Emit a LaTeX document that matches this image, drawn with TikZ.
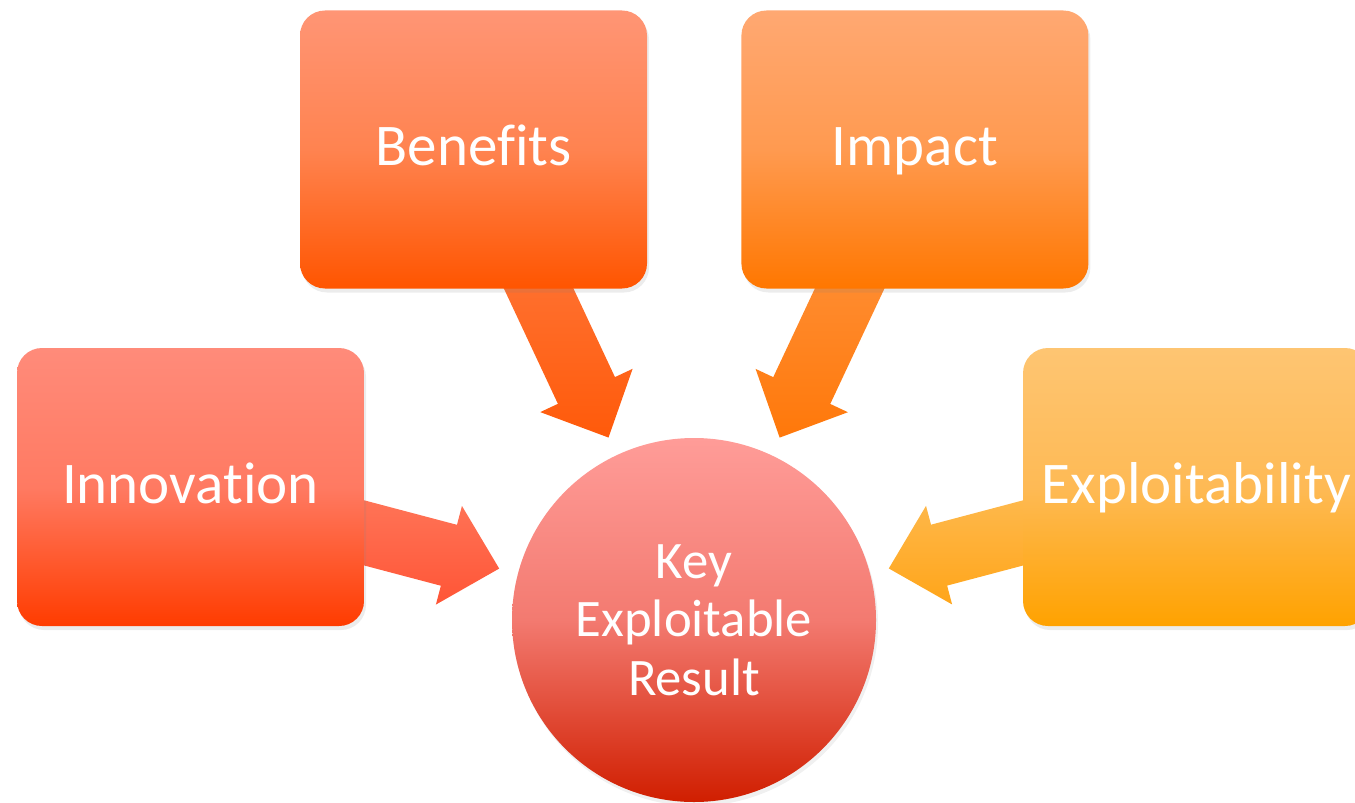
\documentclass[tikz,border=0pt]{standalone}
\usepackage{fontspec}
\setmainfont[Ligatures=NoCommon]{Carlito}
\usetikzlibrary{positioning, calc, shadows, backgrounds}

\definecolor{innoTop}{HTML}{FF8B7A}
\definecolor{innoMid}{HTML}{FF7A62}
\definecolor{innoBot}{HTML}{FF3C00}
\definecolor{beneTop}{HTML}{FF9575}
\definecolor{beneMid}{HTML}{FF8350}
\definecolor{beneBot}{HTML}{FF5500}
\definecolor{impaTop}{HTML}{FFA872}
\definecolor{impaMid}{HTML}{FF9A50}
\definecolor{impaBot}{HTML}{FF7700}
\definecolor{explTop}{HTML}{FEC572}
\definecolor{explMid}{HTML}{FEBA55}
\definecolor{explBot}{HTML}{FFA200}
\definecolor{kerTop}{HTML}{FF9C98}
\definecolor{kerMid}{HTML}{F37A70}
\definecolor{kerBot}{HTML}{D01E00}
\definecolor{innoArrowTop}{HTML}{FF8064}
\definecolor{innoArrowBot}{HTML}{FF5536}
\definecolor{beneArrowTop}{HTML}{FF8450}
\definecolor{beneArrowBot}{HTML}{FF5A0A}
\definecolor{impaArrowTop}{HTML}{FF9E52}
\definecolor{impaArrowBot}{HTML}{FF780A}
\definecolor{explArrowTop}{HTML}{FEC060}
\definecolor{explArrowBot}{HTML}{FFA519}

\begin{document}
\begin{tikzpicture}[
      box/.style={rectangle, rounded corners=0.25cm, minimum width=3.47cm, minimum height=2.78cm, inner sep=0pt, text=white, font=\fontsize{16.8}{20}\selectfont, text height=0.32cm, text depth=0pt, drop shadow={shadow xshift=0.02cm, shadow yshift=-0.04cm, opacity=0.15}},
      result/.style={circle, minimum size=3.64cm, inner sep=0pt, align=center, text=white, font=\fontsize{15}{16.6}\selectfont, drop shadow={shadow xshift=0.02cm, shadow yshift=-0.04cm, opacity=0.12}}
    ]
      \useasboundingbox (0,0) rectangle (13.55,8.02);

      % Nodes
      \node[result, top color=kerTop, bottom color=kerBot, middle color=kerMid] (ker) at (6.94,1.82) {Key\\Exploitable\\Result};
      \node[box, top color=innoTop, bottom color=innoBot, middle color=innoMid] (innovation) at (1.905,3.15) {Innovation};
      \node[box, top color=beneTop, bottom color=beneBot, middle color=beneMid] (benefits) at (4.735,6.525) {Benefits};
      \node[box, top color=impaTop, bottom color=impaBot, middle color=impaMid, right=0.93cm of benefits] (impact) {Impact};
      \node[box, top color=explTop, bottom color=explBot, middle color=explMid] (exploit) at (11.965,3.15) {Exploitability};

      % Block arrows, behind the boxes
      \begin{scope}[on background layer]
        \foreach \src/\topc/\botc in {innovation/innoArrowTop/innoArrowBot, benefits/beneArrowTop/beneArrowBot, impact/impaArrowTop/impaArrowBot, exploit/explArrowTop/explArrowBot} {
          \coordinate (tip) at ($(ker.center)!2.015cm!(\src.center)$);
          \coordinate (base) at ($(tip)!0.52cm!(\src.center)$);
          \shade[top color=\topc, bottom color=\botc]
            ($(\src.center)!0.315cm!90:(tip)$) -- ($(base)!0.315cm!90:(tip)$) -- ($(base)!0.51cm!90:(tip)$) -- (tip)
            -- ($(base)!0.51cm!-90:(tip)$) -- ($(base)!0.315cm!-90:(tip)$) -- ($(\src.center)!0.315cm!-90:(tip)$) -- cycle;
        }
      \end{scope}

    \end{tikzpicture}
\end{document}
